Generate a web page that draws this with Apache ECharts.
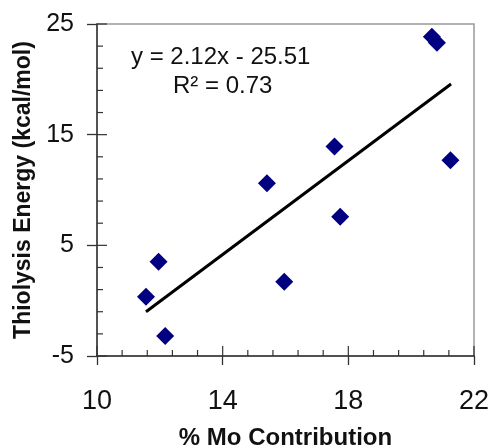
<!DOCTYPE html>
<html>
<head>
<meta charset="utf-8">
<script src="https://cdn.jsdelivr.net/npm/echarts@6/dist/echarts.min.js"></script>
<style>
  html, body { margin: 0; padding: 0; background: #fff; }
  #chart { width: 491px; height: 447px; }
</style>
</head>
<body>
<div id="chart"></div>
<script>
// % Mo contribution vs thiolysis energy (kcal/mol)
const moPct = [20.66, 20.82, 17.56, 21.25, 15.41, 17.74, 11.96, 15.96, 11.56, 12.17]
const energy = [23.85, 23.31, 13.92, 12.69, 10.61, 7.59, 3.52, 1.71, 0.35, -3.2]

// linear fit drawn between first and last x
const fitX = [11.56, 21.27]
const fitY = [-1.0, 19.58]

// tick values (inner ticks are drawn by a custom series)
const xMajor = [10, 14, 18, 22]
const xMinor = [10.8, 11.6, 12.4, 13.2, 14.8, 15.6, 16.4, 17.2, 18.8, 19.6, 20.4, 21.2]
const yMajor = [-5, 5, 15, 25]
const yMinor = [-3, -1, 1, 3, 7, 9, 11, 13, 17, 19, 21, 23]

const eqText = 'y = 2.12x - 25.51'
const r2Text = 'R² = 0.73'

const xTitle = '% Mo Contribution'
const yTitle = 'Thiolysis Energy (kcal/mol)'

const font = 'Liberation Sans, Arial, sans-serif'
const axisColor = '#333'
const xMin = 10, xMax = 22, yMin = -5, yMax = 25

const chart = echarts.init(document.getElementById('chart'))

// rows: [x, y, orient (0 = on x axis, 1 = on y axis), major flag]
const tickRows = []
xMajor.forEach(v => tickRows.push([v, yMin, 0, 1]))
xMinor.forEach(v => tickRows.push([v, yMin, 0, 0]))
yMajor.forEach(v => tickRows.push([xMin, v, 1, 1]))
yMinor.forEach(v => tickRows.push([xMin, v, 1, 0]))

chart.setOption({
  animation: false,
  grid: {
    left: 97, top: 24, right: 17, bottom: 91, outerBoundsMode: 'none',
    show: true, borderColor: '#999', borderWidth: 1.5
  },
  xAxis: {
    type: 'value', min: xMin, max: xMax, interval: 4, position: 'bottom',
    splitLine: { show: false },
    name: xTitle, nameLocation: 'middle', nameGap: 70,
    nameTextStyle: { fontFamily: font, fontSize: 24, fontWeight: 'bold', color: '#111' },
    axisLine: { onZero: false, lineStyle: { color: axisColor, width: 1.5 } },
    axisTick: { show: true, inside: false, length: 9, lineStyle: { color: axisColor, width: 1.3 } },
    axisLabel: { fontFamily: font, fontSize: 27, color: '#111', margin: 32 }
  },
  yAxis: {
    type: 'value', min: yMin, max: yMax, interval: 10, position: 'left',
    splitLine: { show: false },
    name: yTitle, nameLocation: 'middle', nameGap: 58, nameRotate: 90,
    nameTextStyle: { fontFamily: font, fontSize: 23, fontWeight: 'bold', color: '#111' },
    axisLine: { onZero: false, lineStyle: { color: axisColor, width: 1.5 } },
    axisTick: { show: true, inside: false, length: 10, lineStyle: { color: axisColor, width: 1.3 } },
    axisLabel: { fontFamily: font, fontSize: 25, color: '#111', margin: 23 }
  },
  graphic: [
    {
      type: 'text', left: 131, top: 45,
      style: { text: eqText, font: '24px ' + font, fill: '#111' }
    },
    {
      type: 'text', left: 173, top: 74,
      style: { text: r2Text, font: '24px ' + font, fill: '#111' }
    }
  ],
  series: [
    {
      // inner tick marks, positioned through the axes' scales
      type: 'custom',
      silent: true,
      z: 1,
      encode: { x: 0, y: 1 },
      data: tickRows,
      renderItem: function (params, api) {
        const p = api.coord([api.value(0), api.value(1)])
        const len = api.value(3) ? 10 : 6
        const onY = api.value(2) === 1
        return {
          type: 'line',
          shape: onY
            ? { x1: p[0], y1: p[1], x2: p[0] + len, y2: p[1] }
            : { x1: p[0], y1: p[1], x2: p[0], y2: p[1] - len },
          style: { stroke: axisColor, lineWidth: 1.2 }
        }
      }
    },
    {
      type: 'line',
      data: fitX.map((x, i) => [x, fitY[i]]),
      showSymbol: false,
      symbol: 'none',
      lineStyle: { color: '#000', width: 3 },
      z: 2
    },
    {
      type: 'scatter',
      data: moPct.map((x, i) => [x, energy[i]]),
      symbol: 'diamond',
      symbolSize: 18,
      itemStyle: { color: '#000080', opacity: 1 },
      z: 3
    }
  ]
})
</script>
</body>
</html>
